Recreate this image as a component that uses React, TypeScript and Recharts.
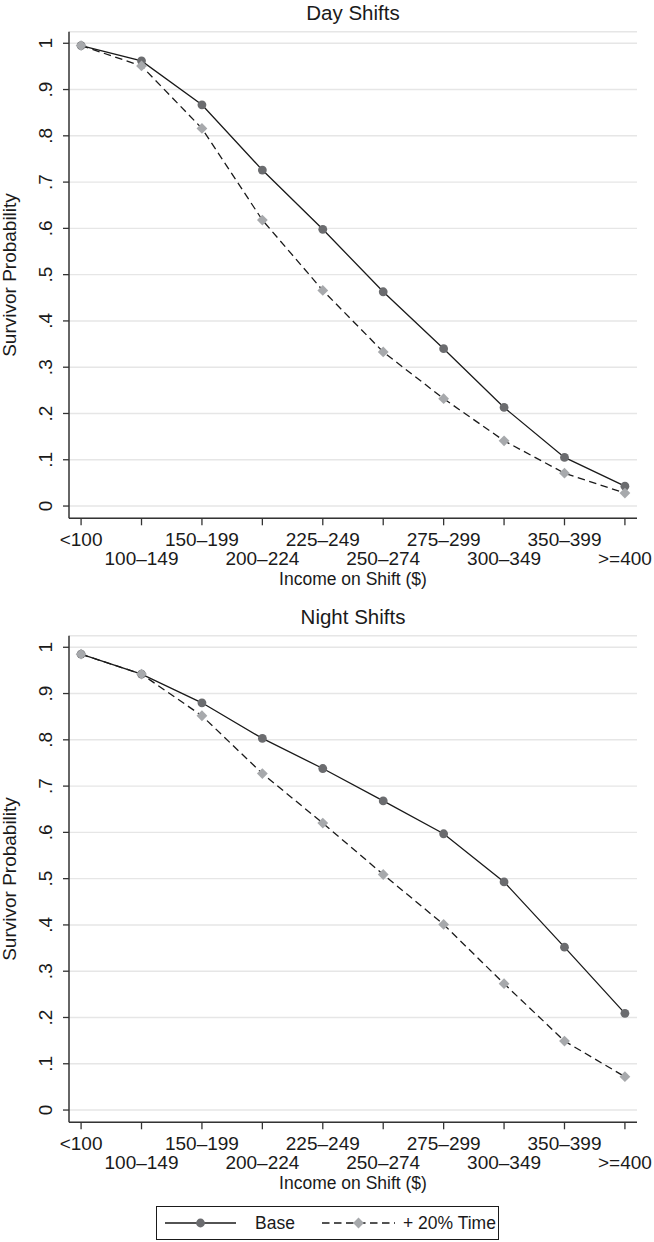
import React from 'react';
import { LineChart, Line, XAxis, YAxis, CartesianGrid, Legend } from 'recharts';

const categories = ['<100', '100–149', '150–199', '200–224', '225–249', '250–274', '275–299', '300–349', '350–399', '>=400'];
const dayBase = [0.995, 0.962, 0.867, 0.726, 0.598, 0.463, 0.340, 0.213, 0.105, 0.043];
const dayTime = [0.995, 0.951, 0.816, 0.618, 0.466, 0.333, 0.232, 0.141, 0.071, 0.028];
const nightBase = [0.985, 0.942, 0.880, 0.803, 0.738, 0.668, 0.597, 0.493, 0.352, 0.209];
const nightTime = [0.985, 0.942, 0.852, 0.727, 0.620, 0.509, 0.401, 0.273, 0.149, 0.072];
const yTicks = [0, 0.1, 0.2, 0.3, 0.4, 0.5, 0.6, 0.7, 0.8, 0.9, 1];
const xTicks = [0, 1, 2, 3, 4, 5, 6, 7, 8, 9];
const panelTitles = ['Day Shifts', 'Night Shifts'];
const seriesNames = ['Base', '+ 20% Time'];
const yAxisTitle = 'Survivor Probability';
const xAxisTitle = 'Income on Shift ($)';

const FONT = '"Liberation Sans", Arial, Helvetica, sans-serif';
const TXT = '#1a1a1a';
const BASE_FILL = '#6b6c6f';
const TIME_FILL = '#a7a9ac';
const LINE = '#1a1a1a';

const buildRows = (base: number[], time: number[]) =>
  categories.map((c, i) => ({ i, cat: c, base: base[i], time: time[i] }));

const fmtY = (v: number) => {
  if (Math.abs(v) < 1e-9) return '0';
  if (Math.abs(v - 1) < 1e-9) return '1';
  return '.' + Math.round(v * 10);
};

const YTick = (props: any) => {
  const { x, y, payload } = props;
  const bx = x - 11.5;
  return (
    <g transform={`translate(${bx}, ${y}) rotate(-90)`}>
      <text x={0} y={0} textAnchor="middle" fontSize={19} fontFamily={FONT} fill={TXT}>
        {fmtY(payload.value)}
      </text>
    </g>
  );
};

const XTick = (props: any) => {
  const { x, y, payload } = props;
  const idx = payload.value as number;
  const row = idx % 2;
  return (
    <text x={x} y={y + 21 + row * 19} textAnchor="middle" fontSize={19} fontFamily={FONT} fill={TXT}>
      {categories[idx]}
    </text>
  );
};

const CircleDot = (props: any) => {
  const { cx, cy, index } = props;
  if (cx == null || cy == null) return <g key={`c-${index}`} />;
  return <circle key={`c-${index}`} cx={cx} cy={cy} r={4.4} fill={BASE_FILL} stroke="none" />;
};

const DiamondDot = (props: any) => {
  const { cx, cy, index } = props;
  if (cx == null || cy == null) return <g key={`d-${index}`} />;
  const s = 5.4;
  return (
    <path key={`d-${index}`} d={`M${cx},${cy - s}L${cx + s},${cy}L${cx},${cy + s}L${cx - s},${cy}Z`} fill={TIME_FILL} stroke="none" />
  );
};

const LegendBox = () => (
  <div style={{ width: 343, height: 34, boxSizing: 'border-box', border: '1.3px solid #1a1a1a', background: '#fff' }}>
    <svg width={341} height={32} style={{ display: 'block', overflow: 'visible' }}>
      <line x1={8} x2={79} y1={16} y2={16} stroke={LINE} strokeWidth={1.3} />
      <circle cx={43.5} cy={16} r={4.4} fill={BASE_FILL} />
      <text x={98} y={22} fontSize={17.5} fontFamily={FONT} fill={TXT}>{seriesNames[0]}</text>
      <line x1={165} x2={238} y1={16} y2={16} stroke={LINE} strokeWidth={1.3} strokeDasharray="7.5 4.5" />
      <path d="M201.5,10.6L206.9,16L201.5,21.4L196.1,16Z" fill={TIME_FILL} />
      <text x={246} y={22} fontSize={17.5} fontFamily={FONT} fill={TXT}>{seriesNames[1]}</text>
    </svg>
  </div>
);

const PLOT_TOP = 31.7;
const PLOT_BOTTOM = 518.3;
const PLOT_LEFT = 69;
const PLOT_RIGHT = 637;

const Panel = ({ title, base, time, height, withLegend }: any) => {
  const data = buildRows(base, time);
  const midY = (PLOT_TOP + PLOT_BOTTOM) / 2;
  const midX = (PLOT_LEFT + PLOT_RIGHT) / 2;
  return (
    <LineChart
      width={654}
      height={height}
      data={data}
      margin={{ top: PLOT_TOP, right: 654 - PLOT_RIGHT, bottom: height - PLOT_BOTTOM, left: 0 }}
      style={{ fontFamily: FONT }}
    >
      <CartesianGrid horizontal vertical={false} stroke="#e6e6e6" strokeWidth={1.4} />
      <XAxis
        dataKey="i"
        type="number"
        domain={[-0.2, 9.2]}
        ticks={xTicks}
        allowDataOverflow
        height={0.001}
        tickSize={7}
        tickMargin={0}
        tick={<XTick />}
        interval={0}
        axisLine={{ stroke: '#333', strokeWidth: 1.5 }}
        tickLine={{ stroke: '#333', strokeWidth: 1.3 }}
      />
      <YAxis
        type="number"
        domain={[-0.0265, 1.025]}
        ticks={yTicks}
        allowDataOverflow
        width={PLOT_LEFT}
        tickSize={6}
        tickMargin={0}
        tick={<YTick />}
        interval={0}
        axisLine={{ stroke: '#333', strokeWidth: 1.5 }}
        tickLine={{ stroke: '#333', strokeWidth: 1.3 }}
      />
      <Line type="linear" dataKey="base" name={seriesNames[0]} stroke={LINE} strokeWidth={1.3} dot={CircleDot} activeDot={false} isAnimationActive={false} />
      <Line type="linear" dataKey="time" name={seriesNames[1]} stroke={LINE} strokeWidth={1.3} strokeDasharray="7.5 4.5" dot={DiamondDot} activeDot={false} isAnimationActive={false} />
      <text x={midX} y={20} textAnchor="middle" fontSize={20.5} fontFamily={FONT} fill={TXT}>{title}</text>
      <text x={midX} y={585} textAnchor="middle" fontSize={17.5} fontFamily={FONT} fill={TXT}>{xAxisTitle}</text>
      <text x={16} y={midY} transform={`rotate(-90, 16, ${midY})`} textAnchor="middle" fontSize={19} fontFamily={FONT} fill={TXT}>{yAxisTitle}</text>
      {withLegend && (
        <Legend
          layout="horizontal"
          verticalAlign="middle"
          align="center"
          content={() => <LegendBox />}
          wrapperStyle={{ position: 'absolute', left: 156, top: 602, width: 343, height: 34 }}
        />
      )}
    </LineChart>
  );
};

export default function App() {
  return (
    <div style={{ position: 'absolute', left: 0, top: 0, width: 654, height: 1242, background: '#fff' }}>
      <Panel title={panelTitles[0]} base={dayBase} time={dayTime} height={604} withLegend={false} />
      <Panel title={panelTitles[1]} base={nightBase} time={nightTime} height={638} withLegend={true} />
    </div>
  );
}
